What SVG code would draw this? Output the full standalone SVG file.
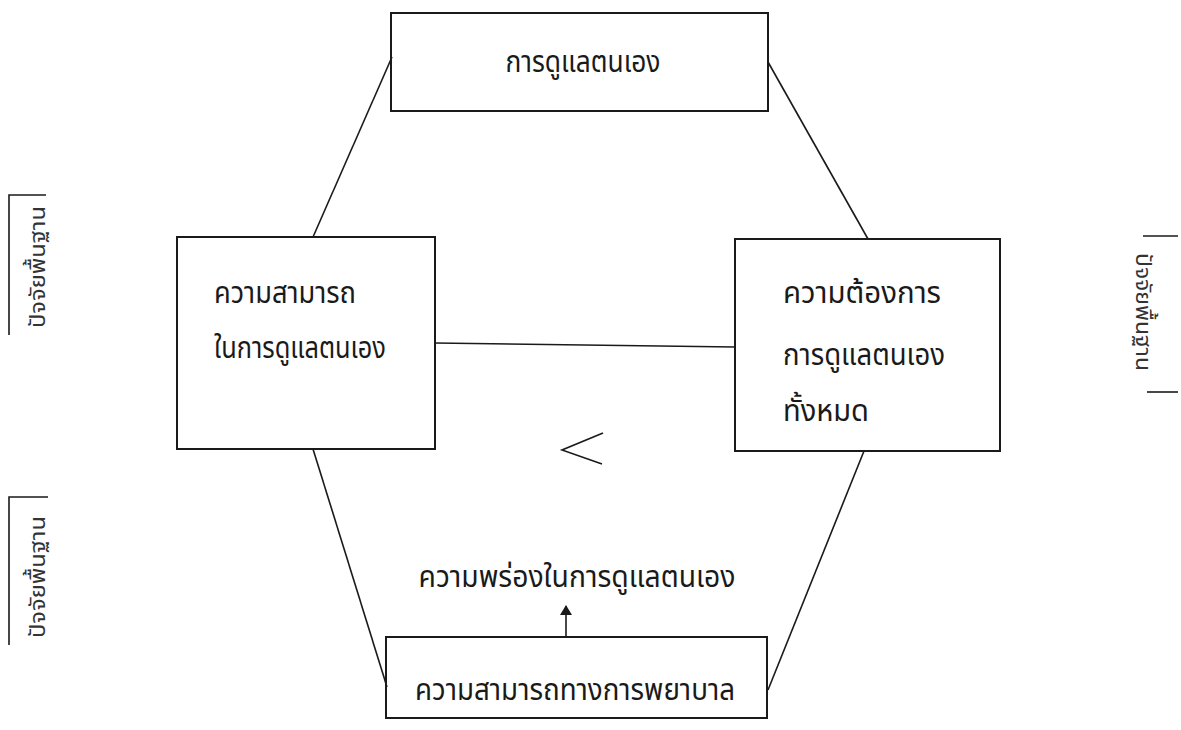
<svg xmlns="http://www.w3.org/2000/svg" width="1181" height="730" viewBox="0 0 1181 730">
<style>
.box{fill:none;stroke:#1a1a1a;stroke-width:2}
.ln{fill:none;stroke:#1a1a1a;stroke-width:1.6}
.t{font-family:"Noto Sans Thai","Noto Sans Thai Looped","Loma","Garuda","Tlwg Typo","Noto Sans","DejaVu Sans",sans-serif;font-size:31px;fill:#1a1a1a}
.v{font-family:"Noto Sans Thai","Loma","Garuda","Noto Sans","DejaVu Sans",sans-serif;font-size:22px;fill:#333}
</style>
<defs>
<marker id="ah" viewBox="0 0 10 12" refX="9" refY="6" markerWidth="10" markerHeight="12" markerUnits="userSpaceOnUse" orient="auto">
<path d="M0,0 L10,6 L0,12 z" fill="#1a1a1a"/>
</marker>
</defs>
<rect width="1181" height="730" fill="#fff"/>
<g id="connectors">
<line class="ln" x1="313" y1="237" x2="392" y2="57"/>
<line class="ln" x1="768" y1="62" x2="868" y2="239"/>
<line class="ln" x1="435" y1="343" x2="735" y2="347"/>
<line class="ln" x1="313" y1="449" x2="387" y2="687"/>
<line class="ln" x1="864" y1="451" x2="768" y2="690"/>
<line class="ln" x1="566" y1="637" x2="566" y2="606" marker-end="url(#ah)" stroke-width="2"/>
<path class="ln" d="M603,433 L562,450 L602,464" stroke-width="2"/>
</g>
<g id="node-top">
<rect class="box" x="391" y="13" width="377" height="98"/>
<text class="t" x="583" y="72" text-anchor="middle" textLength="155" lengthAdjust="spacingAndGlyphs">การดูแลตนเอง</text>
</g>
<g id="node-left">
<rect class="box" x="177" y="237" width="258" height="212"/>
<text class="t" x="214" y="303" textLength="142" lengthAdjust="spacingAndGlyphs">ความสามารถ</text>
<text class="t" x="214" y="358" textLength="172" lengthAdjust="spacingAndGlyphs">ในการดูแลตนเอง</text>
</g>
<g id="node-right">
<rect class="box" x="735" y="239" width="265" height="212"/>
<text class="t" x="783" y="303" textLength="158" lengthAdjust="spacingAndGlyphs">ความต้องการ</text>
<text class="t" x="783" y="365" textLength="162" lengthAdjust="spacingAndGlyphs">การดูแลตนเอง</text>
<text class="t" x="783" y="421" textLength="86" lengthAdjust="spacingAndGlyphs">ทั้งหมด</text>
</g>
<g id="node-bottom">
<rect class="box" x="386" y="637" width="381" height="81"/>
<text class="t" x="575" y="700" text-anchor="middle" textLength="320" lengthAdjust="spacingAndGlyphs">ความสามารถทางการพยาบาล</text>
</g>
<g id="label-deficit">
<text class="t" x="577" y="587" text-anchor="middle" textLength="317" lengthAdjust="spacingAndGlyphs">ความพร่องในการดูแลตนเอง</text>
</g>
<g id="side-left-1">
<path class="ln" d="M46,195 L9,195 L9,335" stroke-width="2"/>
<text class="v" transform="translate(45,267) rotate(-90)" text-anchor="middle" textLength="122" lengthAdjust="spacingAndGlyphs">ปัจจัยพื้นฐาน</text>
</g>
<g id="side-left-2">
<path class="ln" d="M48,497 L9,497 L9,645" stroke-width="2"/>
<text class="v" transform="translate(45,577) rotate(-90)" text-anchor="middle" textLength="122" lengthAdjust="spacingAndGlyphs">ปัจจัยพื้นฐาน</text>
</g>
<g id="side-right">
<line class="ln" x1="1143" y1="236" x2="1178" y2="236" stroke-width="2"/>
<line class="ln" x1="1147" y1="392" x2="1178" y2="392" stroke-width="2"/>
<text class="v" transform="translate(1136,312) rotate(90)" text-anchor="middle" textLength="118" lengthAdjust="spacingAndGlyphs">ปัจจัยพื้นฐาน</text>
</g>
</svg>
